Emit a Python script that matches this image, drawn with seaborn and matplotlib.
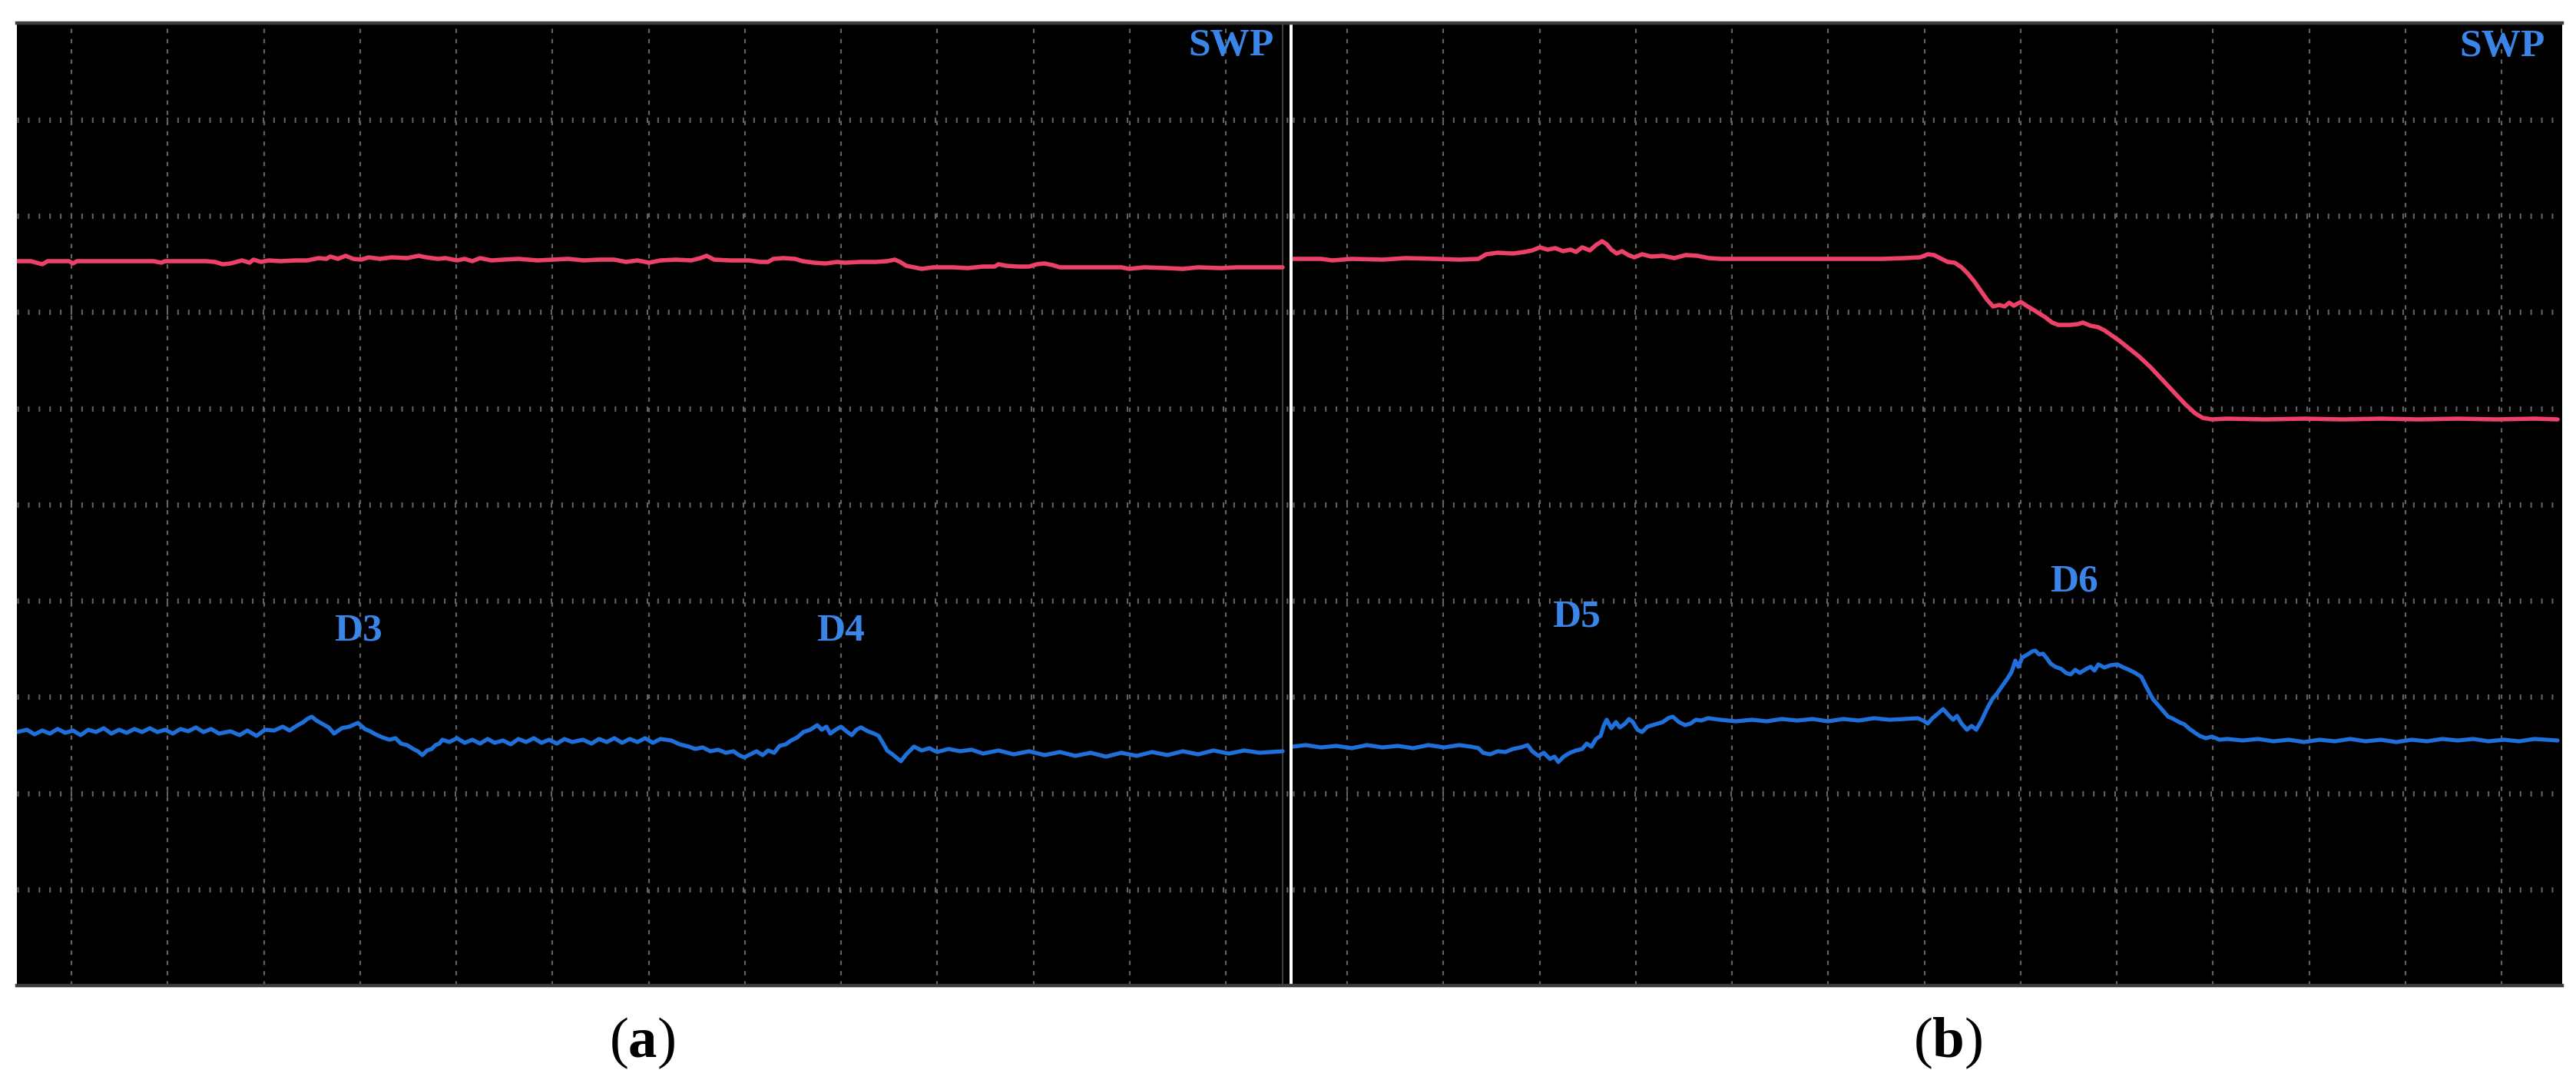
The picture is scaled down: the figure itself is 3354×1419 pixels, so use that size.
import pandas as pd
import numpy as np
import matplotlib
matplotlib.use('Agg')
import matplotlib.pyplot as plt
import seaborn as sns

# oscilloscope captures: x = sample index on screen, y = ADC level (0 = bottom of screen)
# panel (a)
a_swp_t = [0, 18, 33, 40, 68, 73, 78, 128, 178, 188, 193, 246, 258, 268, 278, 293, 303, 308, 318, 328,
           343, 363, 378, 393, 403, 408, 418, 428, 438, 448, 458, 473, 488, 508, 523, 533, 548, 558, 573, 583,
           593, 603, 618, 633, 653, 678, 698, 718, 738, 758, 778, 793, 808, 823, 838, 858, 878, 890, 898, 908,
           928, 953, 968, 978, 985, 998, 1013, 1023, 1038, 1053, 1068, 1078, 1098, 1118, 1133, 1143, 1150, 1158,
           1168, 1178, 1193, 1218, 1238, 1258, 1273, 1278, 1288, 1303, 1318, 1328, 1338, 1348, 1358, 1398, 1438,
           1448, 1468, 1498, 1518, 1538, 1568, 1588, 1618, 1648]
a_swp_v = [943, 943, 939, 943, 943, 940, 943, 943, 943, 941, 943, 943, 942, 939, 940, 944, 941, 945, 942, 944,
           943, 944, 944, 947, 946, 949, 946, 950, 946, 945, 948, 946, 948, 947, 950, 948, 946, 947, 944, 946,
           943, 947, 944, 945, 946, 944, 945, 946, 944, 945, 945, 942, 944, 941, 944, 945, 944, 947, 950, 945,
           944, 944, 942, 942, 946, 947, 946, 943, 941, 940, 942, 941, 942, 942, 943, 945, 942, 937,
           935, 933, 935, 935, 934, 936, 936, 939, 937, 936, 936, 939, 940, 938, 935, 935, 935,
           933, 935, 934, 933, 935, 934, 935, 935, 935]

a_sig_t = [0, 13, 23, 33, 43, 53, 63, 73, 83, 93, 103, 113, 123, 133, 143, 153, 163, 173, 183, 193,
           203, 213, 223, 233, 243, 253, 263, 278, 290, 300, 312, 323, 335, 346, 355, 364, 373, 378, 384, 390,
           399, 406, 413, 423, 433, 444, 453, 460, 467, 476, 485, 493, 500, 508, 516, 522, 528, 534, 540, 545,
           550, 554, 563, 573, 583, 593, 603, 613, 622, 633, 643, 653, 663, 673, 683, 693, 703, 713, 723, 737,
           748, 758, 768, 778, 788, 798, 808, 818, 828, 838, 852, 863, 875, 883, 893, 903, 913, 923, 933, 940,
           947, 955, 963, 971, 978, 986, 993, 1001, 1008, 1016, 1024, 1033, 1042, 1048, 1054, 1059, 1066, 1073,
           1080, 1087, 1093, 1099, 1108, 1116, 1122, 1128, 1133, 1140, 1146, 1151, 1158, 1168, 1178, 1188, 1198,
           1213, 1228, 1243, 1258, 1278, 1298, 1318, 1338, 1358, 1378, 1398, 1418, 1438, 1458, 1478, 1498, 1518,
           1538, 1558, 1578, 1598, 1618, 1648]
a_sig_v = [330, 333, 327, 332, 328, 334, 329, 332, 326, 333, 330, 335, 328, 333, 329, 334, 330, 335, 330, 333,
           328, 334, 331, 336, 330, 334, 328, 331, 326, 332, 325, 333, 332, 337, 332, 338, 343, 347, 350, 345,
           340, 336, 328, 335, 337, 342, 334, 331, 327, 323, 320, 322, 315, 313, 308, 305, 300, 306, 308, 313,
           315, 320, 317, 322, 316, 320, 315, 321, 316, 319, 314, 321, 317, 322, 316, 320, 315, 321, 317, 320,
           315, 321, 317, 322, 316, 321, 317, 322, 316, 321, 319, 314, 311, 308, 310, 305, 307, 303, 305, 300,
           297, 301, 305, 300, 306, 303, 312, 314, 319, 323, 330, 333, 339, 333, 337, 328, 333, 337,
           331, 326, 333, 336, 331, 328, 325, 315, 306, 301, 296, 292, 301, 311, 306, 309, 304,
           308, 305, 307, 302, 306, 301, 305, 300, 304, 299, 303, 298, 303, 299, 304, 300, 305,
           301, 306, 302, 306, 303, 305]

# panel (b)
b_swp_t = [0, 37, 52, 77, 117, 147, 187, 217, 242, 252, 267, 287, 302, 312, 322, 332, 342, 352, 362, 369,
           377, 387, 395, 403, 409, 415, 422, 429, 437, 445, 455, 467, 482, 497, 512, 527, 542, 557, 617, 667,
           717, 767, 797, 817, 827, 835, 845, 853, 862, 871, 879, 888, 897, 904, 912, 920, 927, 933, 939, 948,
           957, 964, 972, 980, 989, 997, 1012, 1022, 1029, 1039, 1049, 1057, 1067, 1077, 1087, 1102, 1117, 1132,
           1147, 1162, 1175, 1185, 1197, 1217, 1267, 1317, 1367, 1417, 1467, 1517, 1567, 1617, 1647]
b_swp_v = [946, 946, 944, 946, 945, 947, 946, 945, 946, 952, 954, 953, 955, 957, 961, 958, 960, 956, 958, 955,
           961, 957, 964, 969, 965, 958, 953, 956, 951, 948, 952, 949, 950, 947, 951, 950, 947, 946, 946, 946,
           946, 946, 947, 948, 952, 951, 946, 942, 941, 935, 927, 916, 903, 893, 884, 886, 884, 889, 885, 890,
           884, 880, 875, 870, 863, 860, 860, 861, 863, 859, 857, 853, 846, 839, 831, 819, 805, 789,
           773, 757, 745, 739, 737, 738, 737, 738, 737, 738, 737, 738, 737, 738, 737]

b_sig_t = [0, 17, 37, 57, 77, 97, 117, 137, 157, 177, 197, 217, 232, 242, 248, 257, 267, 277, 287, 297,
           306, 312, 320, 327, 335, 341, 346, 353, 361, 369, 377, 383, 389, 395, 401, 405, 409, 415, 421, 426,
           433, 438, 443, 449, 455, 462, 472, 482, 489, 495, 503, 511, 518, 525, 532, 541, 557, 577, 598, 617,
           637, 657, 677, 697, 717, 737, 757, 777, 797, 814, 821, 827, 833, 839, 847, 854, 860, 865, 871, 878,
           884, 890, 897, 904, 911, 917, 924, 931, 936, 941, 945, 950, 957, 963, 967, 972, 977, 982, 987, 993,
           1001, 1007, 1013, 1019, 1025, 1033, 1039, 1044, 1049, 1057, 1065, 1074, 1082, 1089, 1097, 1105, 1112,
           1120, 1127, 1134, 1140, 1147, 1154, 1161, 1168, 1175, 1181, 1189, 1197, 1207, 1217, 1237, 1257, 1277,
           1297, 1317, 1337, 1357, 1377, 1397, 1417, 1437, 1457, 1477, 1497, 1517, 1537, 1557, 1577, 1597, 1617,
           1647]
b_sig_v = [311, 313, 310, 312, 309, 313, 310, 312, 309, 313, 310, 313, 311, 309, 303, 301, 305, 304, 308, 310,
           313, 305, 299, 303, 295, 298, 291, 298, 303, 306, 308, 315, 311, 321, 325, 338, 346, 335, 343, 336,
           341, 347, 343, 333, 330, 337, 340, 343, 348, 350, 343, 339, 341, 346, 345, 348, 346, 344, 346, 344,
           347, 345, 347, 344, 347, 345, 348, 346, 347, 348, 345, 341, 348, 353, 360, 352, 346, 351, 341, 333,
           338, 333, 345, 360, 373, 380, 390, 400, 408, 423, 415, 427, 431, 435, 436, 431, 432, 426, 419, 415,
           412, 407, 405, 411, 407, 412, 415, 410, 418, 414, 417, 418, 414, 411, 407, 402, 388,
           373, 365, 357, 350, 347, 343, 340, 334, 329, 325, 322, 324, 320, 321, 319, 321, 318,
           320, 317, 320, 318, 321, 318, 320, 317, 320, 318, 321, 319, 321, 318, 320, 318, 321,
           319]

panels = [
    dict(tag='a', t_max=1657, swp=(a_swp_t, a_swp_v), sig=(a_sig_t, a_sig_v),
         labels=[('D3', 444, 461), ('D4', 1073, 461)], swp_pos=(1581, 1223)),
    dict(tag='b', t_max=1653, swp=(b_swp_t, b_swp_v), sig=(b_sig_t, b_sig_v),
         labels=[('D5', 370, 480), ('D6', 1017, 526)], swp_pos=(1575, 1222)),
]
LEVEL_MAX = 1253
DIV = 125.25

sns.set_theme(style='dark', rc={'axes.facecolor': 'black', 'figure.facecolor': 'white'})
plt.rcParams['font.family'] = ['Liberation Serif', 'DejaVu Serif']
plt.rcParams['mathtext.fontset'] = 'custom'
plt.rcParams['mathtext.rm'] = 'Liberation Serif'
plt.rcParams['mathtext.bf'] = 'Liberation Serif:bold'

RED = '#ee4169'
BLUE = '#1f70da'
LABEL = '#3a86e8'
GRID = '#626262'

fig = plt.figure(figsize=(33.54, 14.19), dpi=100)
W, H = 3354, 1419
rects = [(22, 136, 1657, 1253), (1683, 136, 1653, 1253)]

for p, (x0, y0, w, h) in zip(panels, rects):
    ax = fig.add_axes([x0 / W, y0 / H, w / W, h / H])
    ax.set_facecolor('black')
    df_swp = pd.DataFrame({'t': p['swp'][0], 'v': p['swp'][1]})
    df_sig = pd.DataFrame({'t': p['sig'][0], 'v': p['sig'][1]})
    sns.lineplot(data=df_swp, x='t', y='v', ax=ax, color=RED, linewidth=4.0,
                 estimator=None, sort=False, zorder=3)
    sns.lineplot(data=df_sig, x='t', y='v', ax=ax, color=BLUE, linewidth=3.8,
                 estimator=None, sort=False, zorder=3)
    ax.set_xlim(0, p['t_max'])
    ax.set_ylim(0, LEVEL_MAX)

    # scope graticule
    ax.set_xticks([71 + DIV * k for k in range(13)])
    ax.set_yticks([DIV * k for k in range(1, 10)])
    ax.xaxis.grid(True, color=GRID, linewidth=1.6, linestyle=(0, (2.5, 3.5)))
    ax.yaxis.grid(True, color=GRID, linewidth=5, linestyle=(0, (0.3, 1.7)))
    ax.tick_params(length=0, labelbottom=False, labelleft=False)
    ax.set_xlabel('')
    ax.set_ylabel('')
    for side in ['top', 'bottom']:
        ax.spines[side].set_color('#3d3d3d')
        ax.spines[side].set_linewidth(3.2)
        ax.spines[side].set_visible(True)
    for side in ['left', 'right']:
        ax.spines[side].set_visible(False)
    if p['tag'] == 'a':
        ax.axvline(1648, color='#3d3d3d', linewidth=1.5)

    for txt, tx, ty in p['labels']:
        ax.text(tx, ty, txt, color=LABEL, fontsize=37, fontweight='bold',
                ha='center', va='center', zorder=4)
    ax.text(p['swp_pos'][0], p['swp_pos'][1], 'SWP', color=LABEL, fontsize=37,
            fontweight='bold', ha='center', va='center', zorder=4)

fig.text(836 / W, (H - 1358) / H, r'($\mathbf{a}$)', fontsize=54, color='black',
         ha='center', va='center')
fig.text(2536 / W, (H - 1358) / H, r'($\mathbf{b}$)', fontsize=54, color='black',
         ha='center', va='center')

fig.savefig('out.png', dpi=100)
plt.close()
